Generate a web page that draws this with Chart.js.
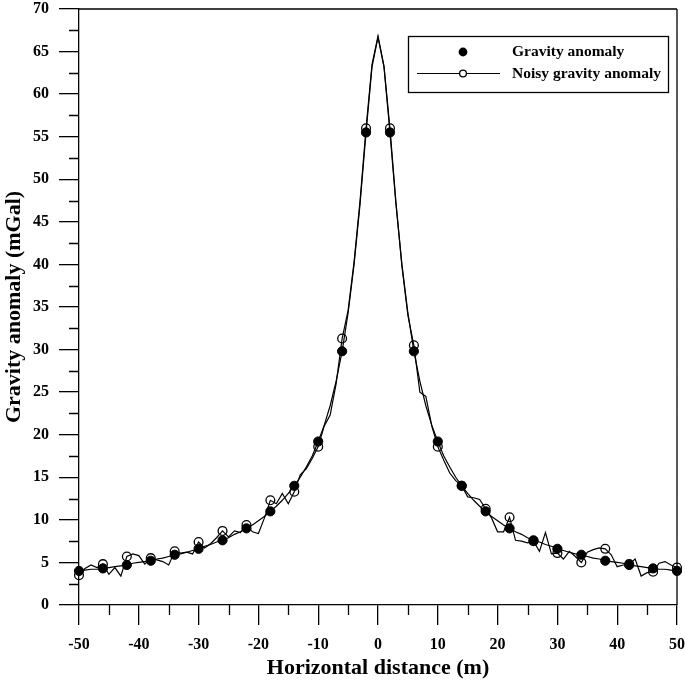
<!DOCTYPE html>
<html>
<head>
<meta charset="utf-8">
<script src="https://cdn.jsdelivr.net/npm/chart.js@4.4.1/dist/chart.umd.min.js"></script>
<style>
  html, body { margin: 0; padding: 0; background: #fff; }
  canvas { display: block; }
</style>
</head>
<body>
<canvas id="c" width="685" height="680"></canvas>
<script>
// Horizontal distance (m)
const distances = [-50,-49,-48,-47,-46,-45,-44,-43,-42,-41,-40,-39,-38,-37,-36,-35,-34,-33,-32,-31,-30,-29,-28,-27,-26,-25,-24,-23,-22,-21,-20,-19,-18,-17,-16,-15,-14,-13,-12,-11,-10,-9,-8,-7,-6,-5,-4,-3,-2,-1,0,1,2,3,4,5,6,7,8,9,10,11,12,13,14,15,16,17,18,19,20,21,22,23,24,25,26,27,28,29,30,31,32,33,34,35,36,37,38,39,40,41,42,43,44,45,46,47,48,49,50];

// Gravity anomaly (mGal)
const gravity = [4.0,4.1,4.2,4.2,4.3,4.4,4.5,4.6,4.7,4.9,5.0,5.1,5.2,5.4,5.5,5.7,5.9,6.0,6.2,6.4,6.6,6.9,7.1,7.4,7.6,7.9,8.3,8.6,9.0,9.4,9.9,10.4,11.0,11.6,12.3,13.1,14.0,15.0,16.2,17.5,19.2,21.1,23.4,26.3,29.8,34.3,40.0,47.1,55.5,63.2,66.7,63.2,55.5,47.1,40.0,34.3,29.8,26.3,23.4,21.1,19.2,17.5,16.2,15.0,14.0,13.1,12.3,11.6,11.0,10.4,9.9,9.4,9.0,8.6,8.3,7.9,7.6,7.4,7.1,6.9,6.6,6.4,6.2,6.0,5.9,5.7,5.5,5.4,5.2,5.1,5.0,4.9,4.7,4.6,4.5,4.4,4.3,4.2,4.2,4.1,4.0];

// Noisy gravity anomaly (mGal)
const noisyGravity = [3.5,4.3,4.7,4.4,4.8,3.6,4.4,3.4,5.7,6.0,5.8,4.8,5.5,5.3,5.1,4.7,6.3,6.1,6.2,6.0,7.4,6.7,7.2,7.9,8.7,8.0,8.7,8.5,9.4,8.6,8.4,10.2,12.3,11.9,13.1,11.9,13.3,15.3,16.0,17.2,18.6,21.0,22.3,26.0,31.3,34.6,40.3,47.5,56.0,63.5,66.8,63.3,56.0,47.3,39.8,34.0,30.5,25.0,24.5,21.0,18.6,17.0,15.5,14.6,14.0,12.7,12.6,12.4,11.3,10.2,8.6,8.6,10.3,7.6,7.5,7.3,7.5,6.3,8.5,6.0,6.1,5.4,6.3,5.7,5.0,6.2,6.5,6.7,6.6,5.9,4.5,4.7,4.8,5.4,3.4,3.8,3.9,4.9,5.1,4.7,4.4];

// Markers are shown at every 4th sample
const markerDistances = [-50,-46,-42,-38,-34,-30,-26,-22,-18,-14,-10,-6,-2,2,6,10,14,18,22,26,30,34,38,42,46,50];

const xTickLabels = ['-50','-40','-30','-20','-10','0','10','20','30','40','50'];
const yTickLabels = ['0','5','10','15','20','25','30','35','40','45','50','55','60','65','70'];

const seriesNames = ['Gravity anomaly', 'Noisy gravity anomaly'];
const xTitle = 'Horizontal distance (m)';
const yTitle = 'Gravity anomaly (mGal)';

const FONT = '"Liberation Serif", "Times New Roman", serif';

const toPoints = vals => distances.map((d, i) => ({x: d, y: vals[i]}));
const radii = r => distances.map(d => markerDistances.includes(d) ? r : 0);

const framePlugin = {
  id: 'frame',
  afterDraw(chart) {
    const {ctx, chartArea: a, scales: {x, y}} = chart;
    ctx.save();
    ctx.strokeStyle = '#000';
    ctx.lineWidth = 1.3;
    ctx.beginPath();
    ctx.moveTo(a.left, a.top); ctx.lineTo(a.right, a.top);
    ctx.moveTo(a.right, a.top); ctx.lineTo(a.right, a.bottom);
    // minor ticks
    for (let v = 2.5; v < 70; v += 5) {
      const py = Math.round(y.getPixelForValue(v)) + 0.5;
      ctx.moveTo(a.left - 10, py); ctx.lineTo(a.left, py);
    }
    for (let v = -45; v < 50; v += 10) {
      const px = Math.round(x.getPixelForValue(v)) + 0.5;
      ctx.moveTo(px, a.bottom); ctx.lineTo(px, a.bottom + 10);
    }
    ctx.stroke();

    // legend box
    const bx = 408, by = 36, bw = 260, bh = 56;
    ctx.fillStyle = '#fff';
    ctx.fillRect(bx, by, bw, bh);
    ctx.lineWidth = 1.3;
    ctx.strokeRect(bx + 0.5, by + 0.5, bw, bh);
    const r1 = 52, r2 = 73.5;
    ctx.fillStyle = '#000';
    ctx.beginPath(); ctx.arc(463, r1, 4.4, 0, Math.PI * 2); ctx.fill();
    ctx.beginPath(); ctx.moveTo(417, r2); ctx.lineTo(500, r2); ctx.lineWidth = 1.2; ctx.stroke();
    ctx.beginPath(); ctx.arc(463, r2, 3.4, 0, Math.PI * 2);
    ctx.fillStyle = '#fff'; ctx.fill(); ctx.lineWidth = 1.3; ctx.stroke();
    ctx.fillStyle = '#000';
    ctx.font = 'bold 15.5px ' + FONT;
    ctx.textBaseline = 'middle';
    ctx.textAlign = 'left';
    ctx.fillText(seriesNames[0], 512, r1);
    ctx.fillText(seriesNames[1], 512, r2);
    ctx.restore();
  }
};

new Chart(document.getElementById('c'), {
  type: 'line',
  data: {
    datasets: [
      {
        label: seriesNames[0],
        data: toPoints(gravity),
        borderColor: '#000',
        borderWidth: 1.2,
        pointRadius: radii(4.6),
        pointBackgroundColor: '#000',
        pointBorderColor: '#000',
        pointBorderWidth: 1,
        tension: 0,
        clip: false
      },
      {
        label: seriesNames[1],
        data: toPoints(noisyGravity),
        borderColor: '#000',
        borderWidth: 1.2,
        pointRadius: radii(4.4),
        pointBackgroundColor: 'rgba(255,255,255,0)',
        pointBorderColor: '#000',
        pointBorderWidth: 1.3,
        tension: 0,
        clip: false
      }
    ]
  },
  options: {
    responsive: false,
    animation: false,
    devicePixelRatio: 1,
    layout: { padding: { top: 0, right: 0, left: 0, bottom: 0 } },
    plugins: { legend: { display: false }, tooltip: { enabled: false } },
    elements: { point: { hoverRadius: 0 } },
    scales: {
      x: {
        type: 'linear',
        min: -50, max: 50,
        afterFit: s => { s.height = 75; s.paddingRight = 8; s.paddingLeft = 0; },
        border: { display: true, color: '#000', width: 1.3 },
        grid: { display: true, drawOnChartArea: false, drawTicks: true, tickLength: 20, color: '#000', lineWidth: 1.3 },
        ticks: {
          stepSize: 10, padding: 10, color: '#000', maxRotation: 0, autoSkip: false,
          font: { family: FONT, size: 16, weight: 'bold' },
          callback: (v, i) => xTickLabels[i]
        },
        title: {
          display: true, text: xTitle, color: '#000',
          font: { family: FONT, size: 22, weight: 'bold', lineHeight: 1 },
          padding: { top: 0, bottom: 1 }
        }
      },
      y: {
        type: 'linear',
        min: 0, max: 70,
        afterFit: s => { s.width = 79; s.paddingTop = 9; s.paddingBottom = 0; },
        border: { display: true, color: '#000', width: 1.3 },
        grid: { display: true, drawOnChartArea: false, drawTicks: true, tickLength: 20, color: '#000', lineWidth: 1.3 },
        ticks: {
          stepSize: 5, padding: 10, color: '#000', autoSkip: false,
          font: { family: FONT, size: 16, weight: 'bold' },
          callback: (v, i) => yTickLabels[i]
        },
        title: {
          display: true, text: yTitle, color: '#000',
          font: { family: FONT, size: 22, weight: 'bold', lineHeight: 1 },
          padding: { top: 3, bottom: 0 }
        }
      }
    }
  },
  plugins: [framePlugin]
});
</script>
</body>
</html>
